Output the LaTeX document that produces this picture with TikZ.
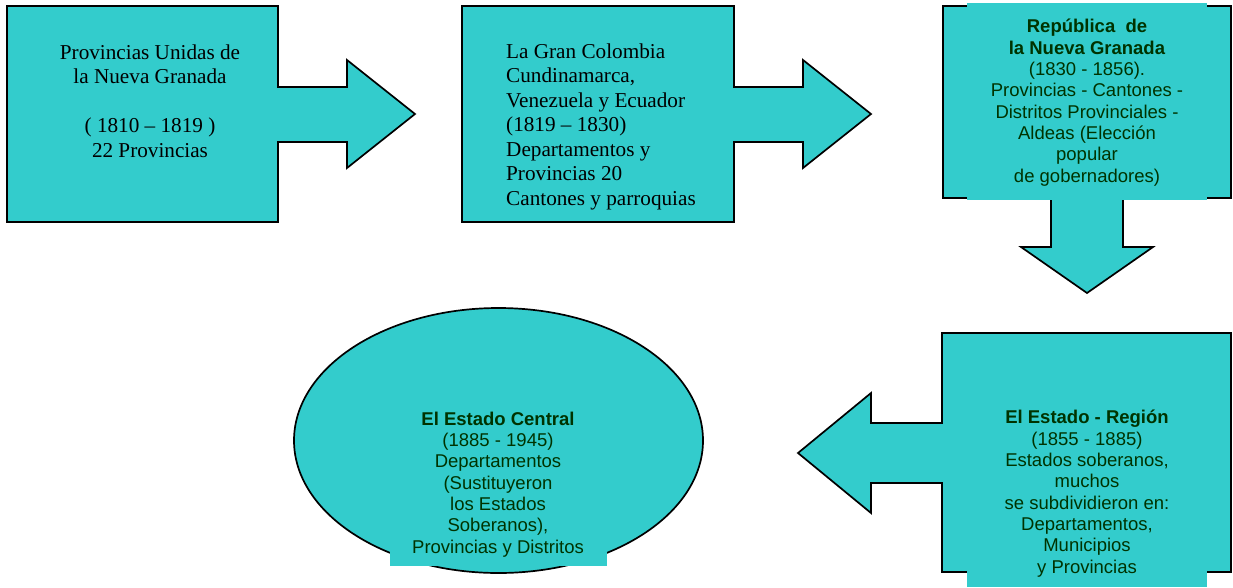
\documentclass[tikz,border=0pt]{standalone}
\usepackage{fontspec}
\setmainfont{Liberation Serif}
\newfontfamily\arialf{Liberation Sans}
\definecolor{tealfill}{HTML}{33CCCC}
\definecolor{dkgreen}{HTML}{003300}
\begin{document}
\begin{tikzpicture}[x=1pt,y=-1pt,
  shapebox/.style={fill=tealfill,draw=black,line width=1.7pt,line join=miter},
  cover/.style={fill=tealfill,draw=none},
  seriftext/.style={anchor=base,inner sep=0pt,font=\fontsize{21.2}{24.5}\selectfont,text=black},
  sanstext/.style={anchor=base,inner sep=0pt,align=center,font=\arialf\fontsize{18.5}{21.3}\selectfont,text=dkgreen}]
\useasboundingbox (0,0) rectangle (1233,587);
% shape 1
\draw[shapebox] (7,6) -- (278,6) -- (278,87) -- (347,87) -- (347,60) -- (415,114) -- (347,168) -- (347,142) -- (278,142) -- (278,222) -- (7,222) -- cycle;
% shape 2
\draw[shapebox] (462,6) -- (734,6) -- (734,87) -- (803,87) -- (803,60) -- (871,114) -- (803,168) -- (803,142) -- (734,142) -- (734,222) -- (462,222) -- cycle;
% shape 3
\draw[shapebox] (943,6) -- (1231,6) -- (1231,198) -- (1123,198) -- (1123,247) -- (1153,247) -- (1087,293) -- (1021,247) -- (1051,247) -- (1051,198) -- (943,198) -- cycle;
\fill[cover] (967,3) rectangle (1207,200);
% shape 4
\draw[shapebox] (942,333) -- (1231,333) -- (1231,572) -- (942,572) -- (942,483) -- (871,483) -- (871,513) -- (798,453) -- (871,393) -- (871,423) -- (942,423) -- cycle;
\fill[cover] (967,540) rectangle (1207,587);
% ellipse
\draw[shapebox] (498.5,440.5) ellipse [x radius=204.5, y radius=132.5];
\fill[cover] (390,520) rectangle (607,566);
% texts (base anchor = last line)
\node[seriftext,align=center] (t1) at (150,157) {Provincias Unidas de\\la Nueva Granada\\\mbox{}\\( 1810 -- 1819 )\\22 Provincias};
\node[seriftext,align=left,anchor=base west] (t2) at (506,205) {La Gran Colombia\\Cundinamarca,\\Venezuela y Ecuador\\(1819 -- 1830)\\Departamentos y\\Provincias 20\\Cantones y parroquias};
\node[sanstext] (t3) at (1087,182) {\textbf{República\ \ de}\\\textbf{la Nueva Granada}\\(1830 - 1856).\\Provincias - Cantones -\\Distritos Provinciales -\\Aldeas (Elección\\popular\\de gobernadores)};
\node[sanstext] (t4) at (1087,573) {\textbf{El Estado - Región}\\(1855 - 1885)\\Estados soberanos,\\muchos\\se subdividieron en:\\Departamentos,\\Municipios\\y Provincias};
\node[sanstext] (t5) at (498,553) {\textbf{El Estado Central}\\(1885 - 1945)\\Departamentos\\(Sustituyeron\\los Estados\\Soberanos),\\Provincias y Distritos};
\end{tikzpicture}
\end{document}
